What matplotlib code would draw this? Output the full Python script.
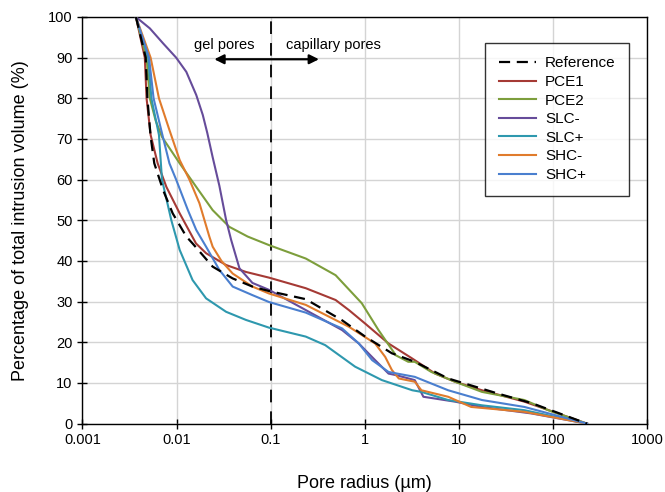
import matplotlib
matplotlib.use("Agg")
import matplotlib.pyplot as plt
import numpy as np

plt.rcParams['font.family'] = ['Liberation Sans', 'DejaVu Sans']

# Reference
ref_x = [0.0037, 0.0047, 0.0049, 0.0053, 0.0058, 0.0072, 0.0091, 0.0127, 0.0148, 0.0242, 0.0395, 0.064, 0.096, 0.236, 0.575, 1.01, 1.94, 3.4, 7.7, 25.9, 60, 230]
ref_y = [100, 90, 80, 70.6, 64, 57.4, 51.7, 46, 44.3, 38.6, 35.7, 33.7, 32.6, 30.6, 25.4, 21.4, 17.3, 15.2, 11.1, 7.4, 5.0, 0]

pce1_x = [0.0037, 0.0046, 0.0048, 0.0053, 0.0063, 0.0078, 0.0108, 0.0161, 0.0206, 0.0336, 0.0546, 0.096, 0.236, 0.49, 0.68, 1.01, 1.79, 3.2, 5.6, 9.1, 17.6, 49.7, 230]
pce1_y = [100, 90, 80, 71, 64, 58.2, 51.7, 44.3, 41.9, 39.0, 37.3, 35.9, 33.3, 30.4, 27.9, 24.6, 19.7, 16.0, 12.3, 10.3, 8.2, 5.4, 0]

pce2_x = [0.0037, 0.0048, 0.0052, 0.0060, 0.0070, 0.0108, 0.0162, 0.0242, 0.0363, 0.057, 0.096, 0.236, 0.49, 0.93, 1.40, 2.14, 2.9, 3.4, 5.1, 9.1, 17.6, 49.7, 89, 230]
pce2_y = [100, 90, 80, 74.5, 70.5, 64, 58.2, 52.5, 48.4, 46, 43.9, 40.6, 36.5, 29.6, 23.0, 16.8, 15.2, 15.2, 12.7, 10.3, 7.8, 5.8, 3.3, 0]

slcm_x = [0.0037, 0.0052, 0.0072, 0.0099, 0.0127, 0.0162, 0.019, 0.0212, 0.0242, 0.0285, 0.0336, 0.038, 0.0466, 0.064, 0.096, 0.575, 0.865, 1.29, 1.79, 2.17, 3.4, 4.2, 9.1, 17.6, 59, 230]
slcm_y = [100, 97.2, 93.5, 90, 86.5, 80.8, 75.9, 71.5, 65.5, 58.5, 50.1, 45.2, 38.2, 34.6, 32.9, 23.0, 19.7, 15.6, 12.3, 11.9, 10.7, 6.6, 5.4, 4.1, 2.5, 0]

slcp_x = [0.0037, 0.0050, 0.0054, 0.0065, 0.0070, 0.0088, 0.0108, 0.0148, 0.0206, 0.0336, 0.0546, 0.096, 0.236, 0.38, 0.79, 1.52, 3.2, 4.0, 7.7, 17.6, 49.7, 230]
slcp_y = [100, 90, 80, 71, 60, 50, 42.7, 35.3, 30.8, 27.5, 25.5, 23.6, 21.4, 19.3, 14.0, 10.7, 8.2, 7.8, 5.8, 4.5, 3.3, 0]

shcm_x = [0.0037, 0.0053, 0.0065, 0.0084, 0.0108, 0.0137, 0.0175, 0.0223, 0.0242, 0.0300, 0.0395, 0.064, 0.096, 0.236, 0.68, 1.29, 1.65, 1.94, 2.3, 3.4, 4.0, 7.7, 13.5, 49.7, 230]
shcm_y = [100, 90, 80, 72.2, 64.8, 60, 54.2, 46, 43.5, 40, 36.9, 33.7, 32.0, 29.2, 23.8, 19.7, 16.4, 13.2, 11.1, 10.3, 8.2, 6.6, 4.1, 2.9, 0]

shcp_x = [0.0037, 0.0051, 0.0057, 0.0069, 0.0084, 0.0099, 0.0132, 0.0162, 0.0206, 0.0285, 0.0395, 0.064, 0.096, 0.236, 0.575, 0.865, 1.2, 1.79, 3.4, 7.7, 17.6, 49.7, 230]
shcp_y = [100, 90, 80, 72, 64, 60, 52.5, 47.6, 43.5, 37.8, 33.7, 31.6, 29.9, 27.3, 23.4, 19.7, 15.6, 12.7, 11.5, 8.2, 5.8, 4.1, 0]

series = [
    ("PCE1", pce1_x, pce1_y, "#A53A35"),
    ("PCE2", pce2_x, pce2_y, "#7D9E3C"),
    ("SLC-", slcm_x, slcm_y, "#664C9A"),
    ("SLC+", slcp_x, slcp_y, "#2E98AE"),
    ("SHC-", shcm_x, shcm_y, "#E07B2C"),
    ("SHC+", shcp_x, shcp_y, "#4A7FCF"),
]

fig = plt.figure(figsize=(6.65, 4.92), dpi=100)
ax = fig.add_axes([0.124, 0.139, 0.849, 0.8265])

ax.plot(ref_x, ref_y, color="black", lw=1.6, ls=(0, (5, 3)), label="Reference", zorder=4)
for name, xs, ys, c in series:
    ax.plot(xs, ys, color=c, lw=1.5, label=name, zorder=3)

ax.set_xscale("log")
ax.set_xlim(0.001, 1000)
ax.set_ylim(0, 100)
ax.set_xticks([0.001, 0.01, 0.1, 1, 10, 100, 1000])
ax.set_xticklabels(["0.001", "0.01", "0.1", "1", "10", "100", "1000"])
ax.xaxis.set_minor_locator(matplotlib.ticker.NullLocator())
ax.set_yticks(np.arange(0, 101, 10))
ax.grid(True, color="#d4d4d4", lw=1.0, zorder=0)
ax.set_axisbelow(True)
ax.tick_params(direction="inout", length=7, width=1.0, labelsize=10.5, colors="black")
for s in ax.spines.values():
    s.set_linewidth(1.0)

ax.axvline(0.1, color="black", lw=1.3, ls=(0, (7, 5)), zorder=2)
ax.annotate("", xy=(0.0252, 89.6), xytext=(0.326, 89.6),
            arrowprops=dict(arrowstyle="<|-|>", color="black", lw=1.6, mutation_scale=14,
                            shrinkA=0, shrinkB=0))
ax.text(0.0318, 93.2, "gel pores", ha="center", va="center", fontsize=10.5)
ax.text(0.46, 93.2, "capillary pores", ha="center", va="center", fontsize=10.5)

ax.set_xlabel("Pore radius (µm)", fontsize=13, labelpad=20)
ax.set_ylabel("Percentage of total intrusion volume (%)", fontsize=13, labelpad=14)

leg = ax.legend(loc="upper right", bbox_to_anchor=(0.982, 0.9555), fontsize=11,
                frameon=True, fancybox=False, edgecolor="black", handlelength=2.4,
                handletextpad=0.6, labelspacing=0.3, borderpad=0.9)
leg.get_frame().set_linewidth(1.0)

fig.savefig("out.png", dpi=100)
